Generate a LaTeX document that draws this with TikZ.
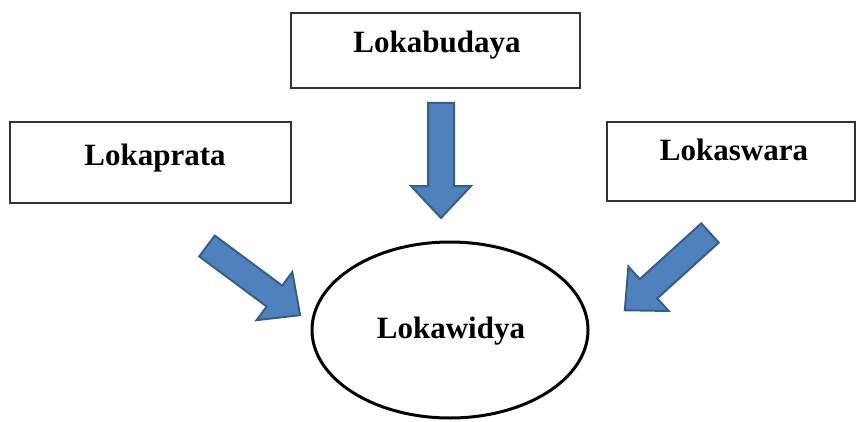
\documentclass[tikz,border=0pt]{standalone}
\usepackage{fontspec}
\usetikzlibrary{shapes.geometric}
\setmainfont{Liberation Serif}
\definecolor{arrowblue}{HTML}{4F81BD}
\definecolor{arrowedge}{HTML}{385D8A}
\begin{document}
\begin{tikzpicture}[x=1pt,y=1pt,
  box/.style={draw=black!80, line width=1.3pt, fill=white},
  lbl/.style={font=\bfseries\fontsize{31}{36}\selectfont, inner sep=0pt, anchor=base},
  arrowshape/.style={draw=arrowedge, fill=arrowblue, line width=2pt, line join=miter},
  pics/barrow/.style={code={
    \draw[arrowshape] (0,-13) -- (#1-32,-13) -- (#1-32,-30) -- (#1,0) -- (#1-32,30) -- (#1-32,13) -- (0,13) -- cycle;}}]
\useasboundingbox (0,0) rectangle (864,421);
% boxes
\draw[box] (291,408) rectangle (580,333);
\node[lbl] (budaya) at (437,368) {Lokabudaya};
\draw[box] (10,299) rectangle (291,218);
\node[lbl] (prata) at (155,255) {Lokaprata};
\draw[box] (607,299) rectangle (855,220);
\node[lbl] (swara) at (734,260) {Lokaswara};
% ellipse
\node[draw=black, line width=3pt, ellipse, inner sep=0pt, minimum width=276pt, minimum height=176pt] (ell) at (450,91) {};
\node[lbl] (widya) at (451,83) {Lokawidya};
% arrows
\pic[rotate=-90] at (441,318) {barrow=115};
\pic[rotate=-36.6] at (207,175) {barrow=116};
\pic[rotate=222.2] at (710,188) {barrow=115};
\end{tikzpicture}
\end{document}
